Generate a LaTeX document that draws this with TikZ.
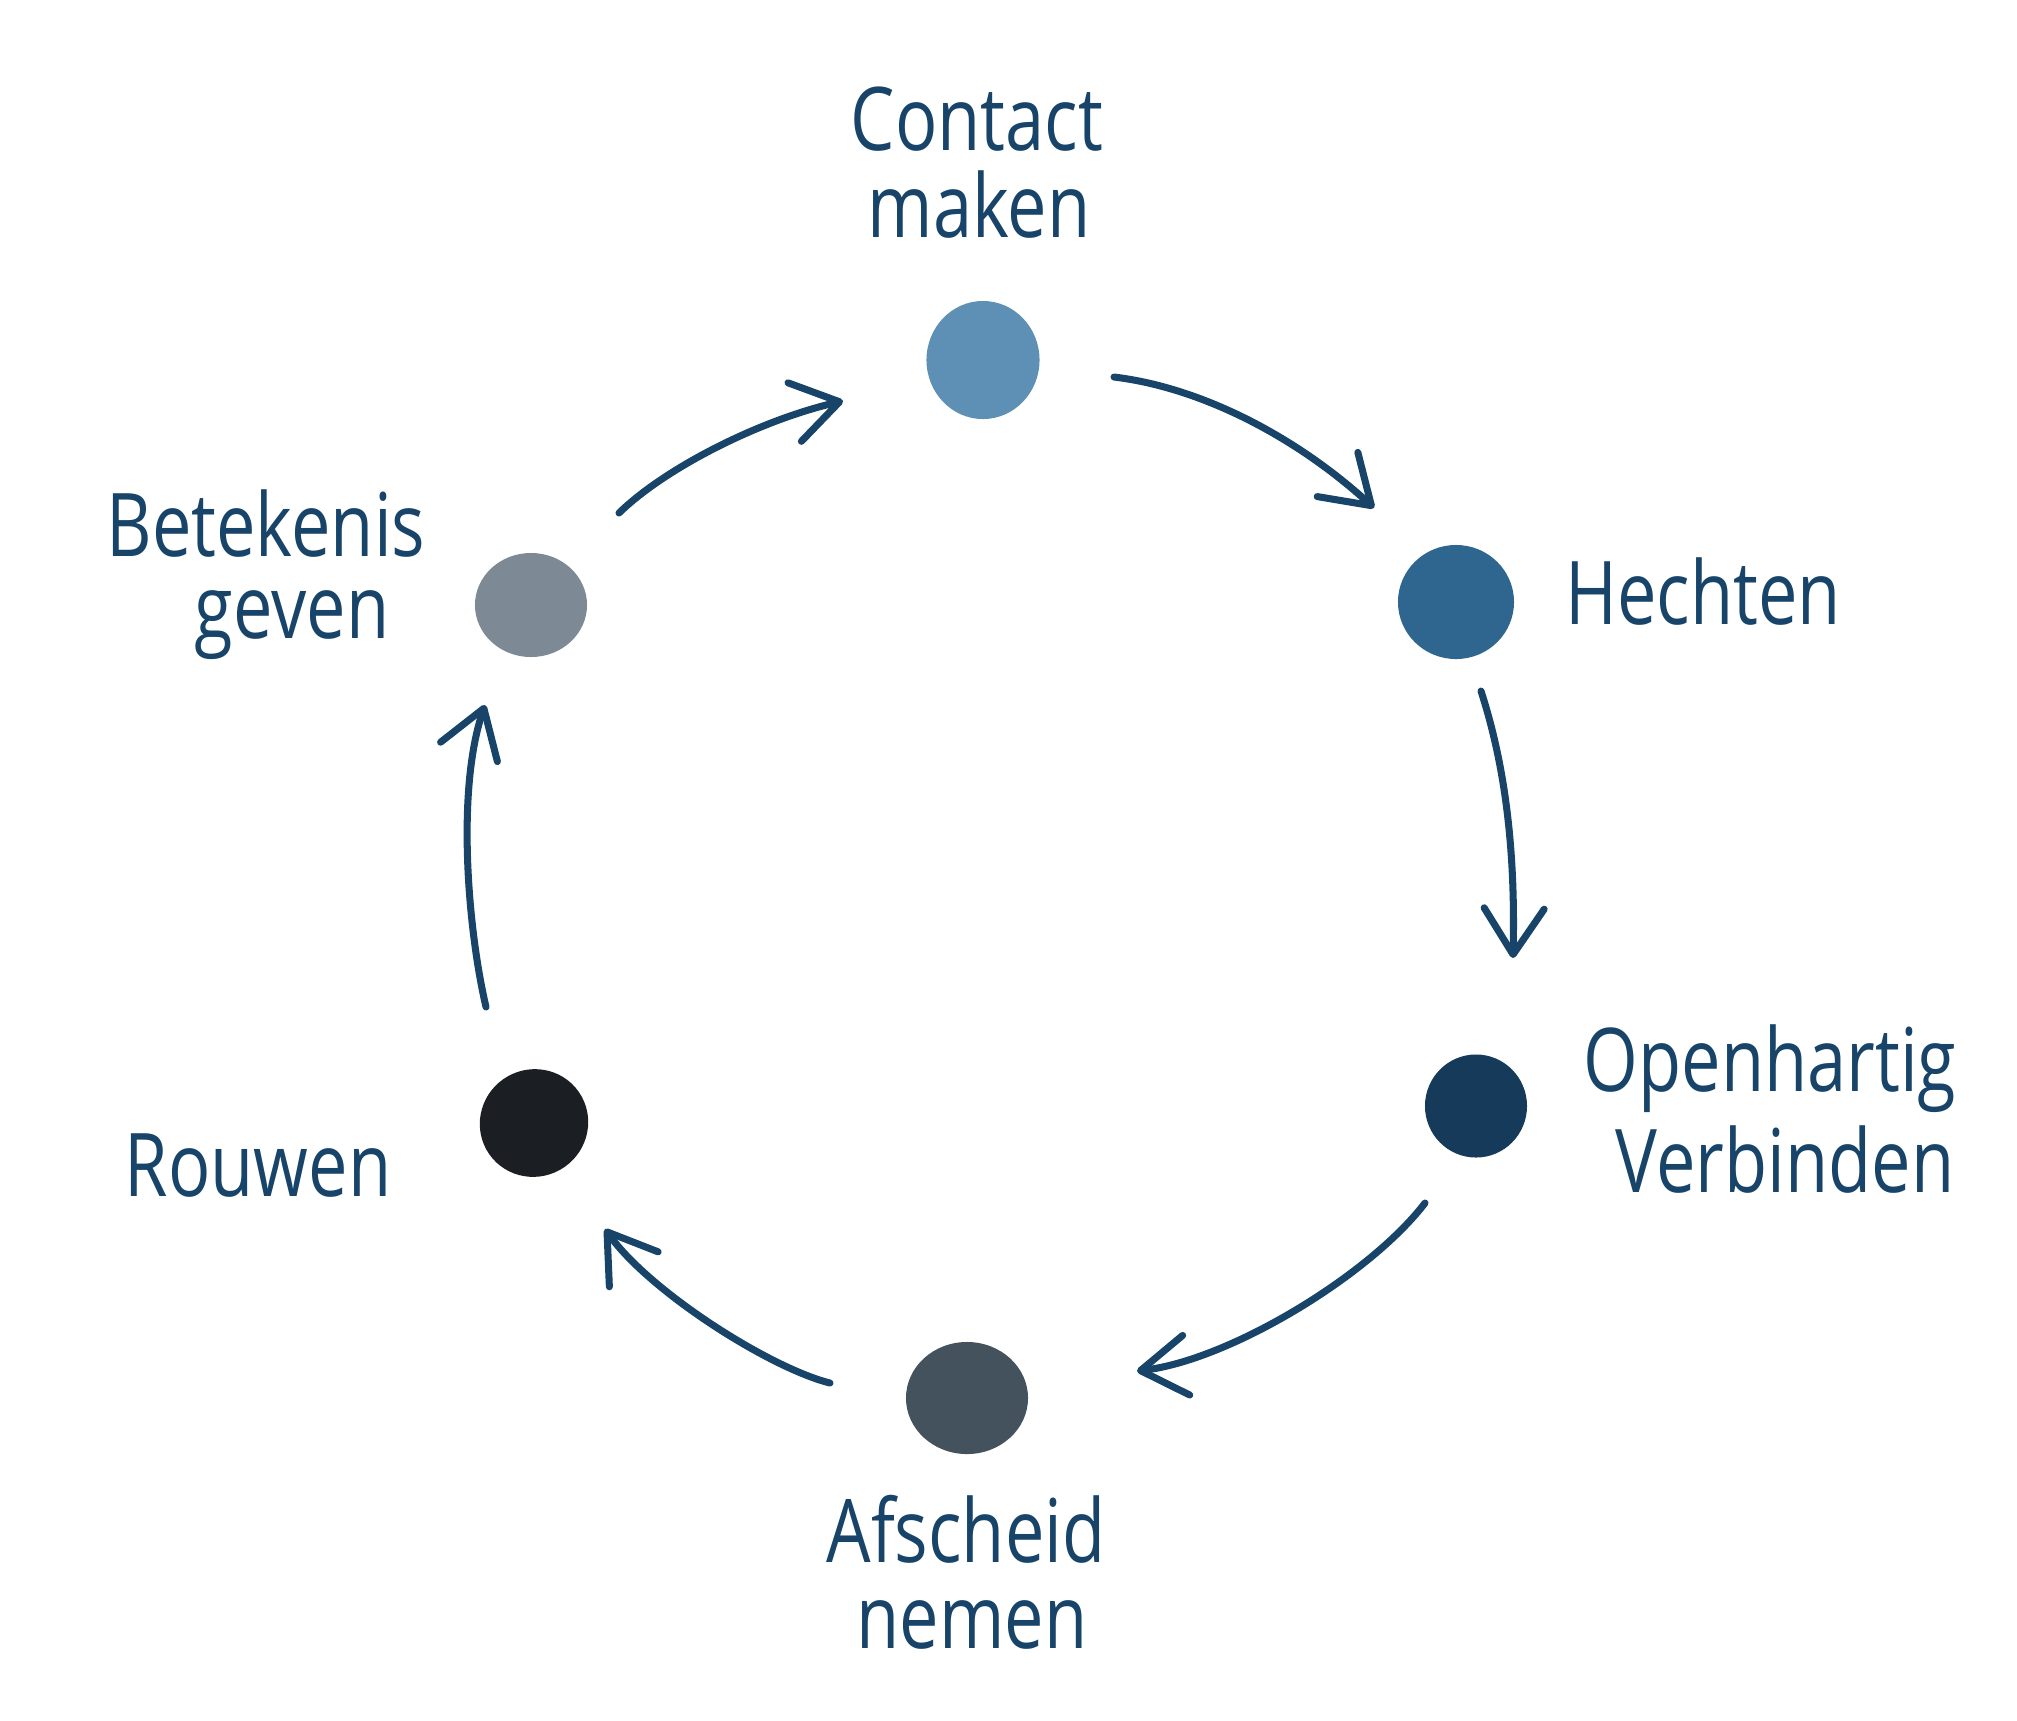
\documentclass[tikz,border=0pt]{standalone}
\usepackage{fontspec}
\setmainfont[FakeStretch=0.8]{Open Sans}
\usetikzlibrary{arrows.meta,shapes.geometric}
\definecolor{ink}{HTML}{174468}
\definecolor{cA}{HTML}{5E8FB5}
\definecolor{cB}{HTML}{2F6690}
\definecolor{cC}{HTML}{163A5A}
\definecolor{cD}{HTML}{44525E}
\definecolor{cE}{HTML}{1B1F23}
\definecolor{cF}{HTML}{7D8A95}
\tikzset{
  dot/.style={ellipse, inner sep=0pt, draw=none},
  lbl/.style={anchor=base, text=ink, inner sep=0pt, font=\fontsize{25}{25}\selectfont},
  cyc/.style={draw=ink, line width=2pt, line cap=round, line join=round,
    -{Straight Barb[length=4.6mm, width=6mm, line cap=round, line join=round]}}
}
\begin{document}
\begin{tikzpicture}[x=0.01cm, y=-0.01cm]
\useasboundingbox (0,0) rectangle (2017,1720);
% dots
\node[dot, fill=cA, minimum width=1.13cm, minimum height=1.18cm] (d1) at (983,360) {};
\node[dot, fill=cB, minimum width=1.16cm, minimum height=1.14cm] (d2) at (1456,602) {};
\node[dot, fill=cC, minimum width=1.02cm, minimum height=1.03cm] (d3) at (1476,1106) {};
\node[dot, fill=cD, minimum width=1.22cm, minimum height=1.12cm] (d4) at (967,1398) {};
\node[dot, fill=cE, minimum width=1.09cm, minimum height=1.07cm, rotate=35] (d5) at (534,1123) {};
\node[dot, fill=cF, minimum width=1.12cm, minimum height=1.04cm] (d6) at (531,605) {};
% labels
\node[lbl] (t1a) at (977,150) {Contact};
\node[lbl] (t1b) at (979,237) {maken};
\node[lbl] (t2) at (1703,624) {Hechten};
\node[lbl] (t3a) at (1770,1091) {Openhartig};
\node[lbl] (t3b) at (1785,1192) {Verbinden};
\node[lbl] (t4a) at (966,1562) {Afscheid};
\node[lbl] (t4b) at (972,1648) {nemen};
\node[lbl] (t5) at (258,1196) {Rouwen};
\node[lbl] (t6a) at (266,556) {Betekenis};
\node[lbl] (t6b) at (292,638) {geven};
% arrow end points
\coordinate (a1s) at (1114,377); \coordinate (a1e) at (1374,508);
\coordinate (a2s) at (1481,691); \coordinate (a2e) at (1513,958);
\coordinate (a3s) at (1425,1203); \coordinate (a3e) at (1137,1371);
\coordinate (a4s) at (830,1383); \coordinate (a4e) at (605,1229);
\coordinate (a5s) at (486,1007); \coordinate (a5e) at (485,705);
\coordinate (a6s) at (619,513); \coordinate (a6e) at (843,401);
% arrows
\draw[cyc] (a1s) .. controls (1205,388) and (1300,440) .. (a1e);
\draw[cyc] (a2s) .. controls (1500,750) and (1516,830) .. (a2e);
\draw[cyc] (a3s) .. controls (1370,1275) and (1230,1360) .. (a3e);
\draw[cyc] (a4s) .. controls (770,1368) and (650,1292) .. (a4e);
\draw[cyc] (a5s) .. controls (468,930) and (456,790) .. (a5e);
\draw[cyc] (a6s) .. controls (665,468) and (760,420) .. (a6e);
\end{tikzpicture}
\end{document}
